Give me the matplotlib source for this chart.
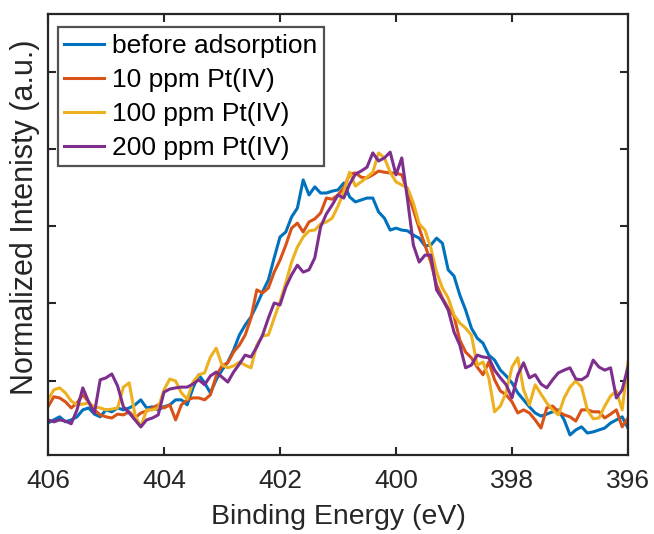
import numpy as np
import matplotlib
matplotlib.use('Agg')
import matplotlib.pyplot as plt

plt.rcParams['font.family'] = ['Liberation Sans', 'DejaVu Sans']

# Binding energy grid (eV), 0.1 eV steps from 406 down to 396
energy = np.linspace(406.0, 396.0, 101)

before = [
    0.290, 0.298, 0.306, 0.293, 0.298, 0.306, 0.324, 0.329, 0.313, 0.306,
    0.324, 0.319, 0.329, 0.324, 0.329, 0.337, 0.350, 0.329, 0.332, 0.324,
    0.332, 0.337, 0.350, 0.350, 0.337, 0.381, 0.415, 0.394, 0.368, 0.402,
    0.427, 0.448, 0.479, 0.518, 0.544, 0.565, 0.596, 0.630, 0.661, 0.718,
    0.772, 0.785, 0.824, 0.847, 0.920, 0.881, 0.902, 0.886, 0.886, 0.891,
    0.894, 0.912, 0.876, 0.863, 0.868, 0.873, 0.873, 0.837, 0.821, 0.790,
    0.795, 0.790, 0.788, 0.777, 0.769, 0.749, 0.751, 0.769, 0.756, 0.687,
    0.671, 0.622, 0.583, 0.536, 0.510, 0.497, 0.466, 0.453, 0.427, 0.412,
    0.394, 0.368, 0.350, 0.332, 0.316, 0.308, 0.313, 0.319, 0.324, 0.298,
    0.259, 0.272, 0.280, 0.264, 0.267, 0.272, 0.277, 0.290, 0.298, 0.306,
    0.277]

ppm10 = [
    0.332, 0.358, 0.355, 0.345, 0.329, 0.342, 0.363, 0.345, 0.324, 0.311,
    0.306, 0.303, 0.313, 0.311, 0.319, 0.303, 0.316, 0.321, 0.329, 0.337,
    0.329, 0.337, 0.298, 0.337, 0.350, 0.355, 0.355, 0.350, 0.363, 0.412,
    0.438, 0.446, 0.474, 0.492, 0.518, 0.562, 0.635, 0.627, 0.640, 0.681,
    0.712, 0.751, 0.795, 0.808, 0.785, 0.811, 0.819, 0.834, 0.873, 0.870,
    0.881, 0.899, 0.935, 0.938, 0.927, 0.925, 0.933, 0.943, 0.940, 0.938,
    0.938, 0.933, 0.889, 0.842, 0.795, 0.751, 0.707, 0.648, 0.614, 0.588,
    0.567, 0.505, 0.474, 0.459, 0.435, 0.415, 0.448, 0.402, 0.373, 0.363,
    0.345, 0.316, 0.324, 0.316, 0.298, 0.277, 0.329, 0.334, 0.319, 0.311,
    0.306, 0.295, 0.324, 0.324, 0.319, 0.319, 0.303, 0.313, 0.324, 0.280,
    0.303]

ppm100 = [
    0.350, 0.376, 0.381, 0.368, 0.347, 0.337, 0.339, 0.342, 0.332, 0.329,
    0.324, 0.326, 0.329, 0.383, 0.394, 0.311, 0.280, 0.324, 0.324, 0.329,
    0.376, 0.404, 0.399, 0.368, 0.352, 0.396, 0.415, 0.420, 0.461, 0.484,
    0.440, 0.433, 0.438, 0.448, 0.440, 0.433, 0.492, 0.516, 0.518, 0.562,
    0.604, 0.653, 0.707, 0.746, 0.772, 0.788, 0.790, 0.806, 0.811, 0.821,
    0.852, 0.889, 0.940, 0.904, 0.915, 0.927, 0.940, 0.990, 0.977, 0.940,
    0.915, 0.907, 0.899, 0.860, 0.806, 0.790, 0.744, 0.681, 0.640, 0.614,
    0.570, 0.549, 0.536, 0.518, 0.440, 0.448, 0.407, 0.319, 0.334, 0.370,
    0.435, 0.459, 0.376, 0.337, 0.389, 0.365, 0.342, 0.324, 0.311, 0.355,
    0.383, 0.399, 0.383, 0.324, 0.301, 0.303, 0.334, 0.360, 0.373, 0.324,
    0.448]

ppm200 = [
    0.298, 0.293, 0.298, 0.295, 0.288, 0.324, 0.381, 0.345, 0.316, 0.402,
    0.407, 0.417, 0.386, 0.332, 0.316, 0.298, 0.280, 0.298, 0.303, 0.311,
    0.370, 0.378, 0.381, 0.383, 0.383, 0.391, 0.402, 0.389, 0.412, 0.422,
    0.409, 0.396, 0.422, 0.443, 0.466, 0.461, 0.487, 0.518, 0.562, 0.601,
    0.596, 0.642, 0.674, 0.699, 0.681, 0.687, 0.718, 0.798, 0.832, 0.855,
    0.881, 0.873, 0.909, 0.935, 0.943, 0.953, 0.990, 0.969, 0.977, 0.992,
    0.933, 0.977, 0.868, 0.751, 0.707, 0.725, 0.725, 0.635, 0.611, 0.583,
    0.526, 0.492, 0.433, 0.440, 0.466, 0.461, 0.459, 0.427, 0.407, 0.389,
    0.355, 0.415, 0.446, 0.407, 0.415, 0.391, 0.381, 0.402, 0.420, 0.427,
    0.433, 0.404, 0.402, 0.412, 0.453, 0.435, 0.427, 0.433, 0.355, 0.376,
    0.435]

labels = ['before adsorption', '10 ppm Pt(IV)', '100 ppm Pt(IV)', '200 ppm Pt(IV)']
colors = ['#0072BD', '#D95319', '#EDB120', '#7E2F8E']
x_ticks = [406, 404, 402, 400, 398, 396]
y_ticks = [0.4, 0.6, 0.8, 1.0, 1.2]

dark = '#262626'

fig = plt.figure(figsize=(6.54, 5.34), dpi=100)
ax = fig.add_axes([0.0734, 0.1479, 0.8868, 0.8259])

for series, lab, col in zip([before, ppm10, ppm100, ppm200], labels, colors):
    ax.plot(energy, series, color=col, lw=2.2, label=lab)

ax.set_xlim(406, 396)
ax.set_ylim(0.207, 1.35)
ax.set_xticks(x_ticks)
ax.set_yticks(y_ticks)
ax.set_yticklabels([])
ax.tick_params(direction='in', length=6, width=1.5, colors=dark,
               labelsize=19, top=True, right=True, pad=10)
for sp in ax.spines.values():
    sp.set_color(dark)
    sp.set_linewidth(1.6)

ax.set_xlabel('Binding Energy (eV)', fontsize=20.5, color=dark, labelpad=8)
ax.set_ylabel('Normalized Intenisty (a.u.)', fontsize=22, color=dark)
ax.yaxis.set_label_coords(-0.013, 0.54)

leg = ax.legend(loc='upper left', fontsize=19, frameon=True, fancybox=False,
                edgecolor=dark, borderpad=0.25, labelspacing=0.38,
                handlelength=1.5, handletextpad=0.3, borderaxespad=0.0,
                bbox_to_anchor=(0.017, 0.97))
leg.get_frame().set_linewidth(1.6)
for t in leg.get_texts():
    t.set_color('black')

fig.savefig('out.png', dpi=100)
